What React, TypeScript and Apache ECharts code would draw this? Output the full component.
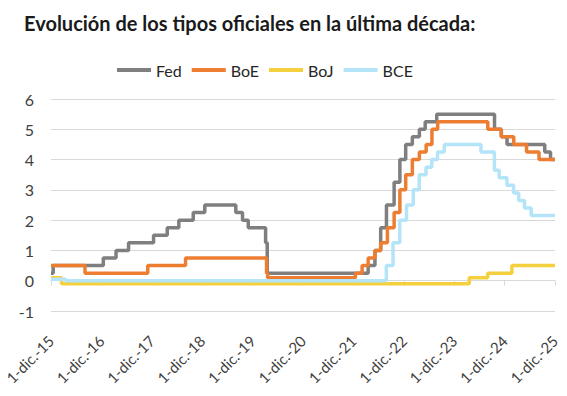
import React, { useEffect, useRef } from "react";
import * as echarts from "echarts";

const TITLE = "Evolución de los tipos oficiales en la última década:";
const SERIES_NAMES = ["Fed", "BoE", "BoJ", "BCE"];
const COLORS = ["#7f7f7f", "#ed7d31", "#f4d03f", "#b4e4f8"];

const START_YEAR = 2015;
const YEAR_TICKS = ["15", "16", "17", "18", "19", "20", "21", "22", "23", "24", "25"];
const Y_MIN = -1;
const Y_MAX = 6;

// [date, rate]  (step changes)
const fedData: [string, number][] = [
  ["2015-12-01", 0.25], ["2015-12-17", 0.5], ["2016-12-15", 0.75], ["2017-03-16", 1.0],
  ["2017-06-15", 1.25], ["2017-12-14", 1.5], ["2018-03-22", 1.75], ["2018-06-14", 2.0],
  ["2018-09-27", 2.25], ["2018-12-20", 2.5], ["2019-08-01", 2.25], ["2019-09-19", 2.0],
  ["2019-10-31", 1.75], ["2020-03-04", 1.25], ["2020-03-16", 0.25], ["2022-03-17", 0.5],
  ["2022-05-05", 1.0], ["2022-06-16", 1.75], ["2022-07-28", 2.5], ["2022-09-22", 3.25],
  ["2022-11-03", 4.0], ["2022-12-15", 4.5], ["2023-02-02", 4.75], ["2023-03-23", 5.0],
  ["2023-05-04", 5.25], ["2023-07-27", 5.5], ["2024-09-19", 5.0], ["2024-11-08", 4.75],
  ["2024-12-19", 4.5], ["2025-09-18", 4.25], ["2025-10-30", 4.0], ["2025-12-01", 4.0],
];

const boeData: [string, number][] = [
  ["2015-12-01", 0.5], ["2016-08-04", 0.25], ["2017-11-02", 0.5], ["2018-08-02", 0.75],
  ["2020-03-11", 0.25], ["2020-03-19", 0.1], ["2021-12-16", 0.25], ["2022-02-03", 0.5],
  ["2022-03-17", 0.75], ["2022-05-05", 1.0], ["2022-06-16", 1.25], ["2022-08-04", 1.75],
  ["2022-09-22", 2.25], ["2022-11-03", 3.0], ["2022-12-15", 3.5], ["2023-02-02", 4.0],
  ["2023-03-23", 4.25], ["2023-05-11", 4.5], ["2023-06-22", 5.0], ["2023-08-03", 5.25],
  ["2024-08-01", 5.0], ["2024-11-07", 4.75], ["2025-02-06", 4.5], ["2025-05-08", 4.25],
  ["2025-08-07", 4.0], ["2025-12-01", 4.0],
];

const bojData: [string, number][] = [
  ["2015-12-01", 0.1], ["2016-02-16", -0.1], ["2024-03-19", 0.1], ["2024-07-31", 0.25],
  ["2025-01-24", 0.5], ["2025-12-01", 0.5],
];

const bceData: [string, number][] = [
  ["2015-12-01", 0.05], ["2016-03-16", 0.0], ["2022-07-27", 0.5], ["2022-09-14", 1.25],
  ["2022-11-02", 2.0], ["2022-12-21", 2.5], ["2023-02-08", 3.0], ["2023-03-22", 3.5],
  ["2023-05-10", 3.75], ["2023-06-21", 4.0], ["2023-08-02", 4.25], ["2023-09-20", 4.5],
  ["2024-06-12", 4.25], ["2024-09-18", 3.65], ["2024-10-23", 3.4], ["2024-12-18", 3.15],
  ["2025-02-05", 2.9], ["2025-03-12", 2.65], ["2025-04-23", 2.4], ["2025-06-11", 2.15],
  ["2025-12-01", 2.15],
];

const ALL_DATA = [fedData, boeData, bojData, bceData];

// months elapsed since 1 Dec 2015
function toMonthIndex(date: string): number {
  const [y, m, d] = date.split("-").map(Number);
  const dim = new Date(Date.UTC(y, m, 0)).getUTCDate();
  return (y - START_YEAR) * 12 + (m - 12) + (d - 1) / dim;
}

const FONT = "Lato, 'Open Sans', sans-serif";

export default function App() {
  const ref = useRef<HTMLDivElement>(null);
  useEffect(() => {
    if (!ref.current) return;
    const chart = echarts.init(ref.current, undefined, { renderer: "svg" });
    const xMax = (YEAR_TICKS.length - 1) * 12;
    chart.setOption({
      animation: false,
      backgroundColor: "#ffffff",
      textStyle: { fontFamily: FONT },
      title: {
        text: TITLE,
        left: 19,
        top: 8,
        textStyle: { fontFamily: FONT, fontSize: 20, fontWeight: "bold", color: "#1a1a1a" },
      },
      legend: {
        data: SERIES_NAMES,
        left: 112,
        top: 57,
        icon: "rect",
        itemWidth: 34,
        itemHeight: 4,
        itemGap: 10,
        textStyle: { fontFamily: FONT, fontSize: 16, color: "#262626" },
      },
      grid: { left: 51, right: 12, top: 99, bottom: 85, outerBoundsMode: "none", containLabel: false },
      xAxis: {
        type: "value",
        min: 0,
        max: xMax,
        interval: 12,
        axisLine: { onZero: true, lineStyle: { color: "#d9d9d9", width: 1 } },
        axisTick: { show: true, length: 5, lineStyle: { color: "#d9d9d9" } },
        splitLine: { show: false },
        axisLabel: {
          rotate: 45,
          margin: 27,
          fontSize: 15,
          fontFamily: FONT,
          color: "#404040",
          formatter: (v: number) => {
            const i = Math.round(v / 12);
            return YEAR_TICKS[i] !== undefined ? "1-dic.-" + YEAR_TICKS[i] : "";
          },
        },
      },
      yAxis: {
        type: "value",
        min: Y_MIN,
        max: Y_MAX,
        interval: 1,
        axisLine: { show: false },
        axisTick: { show: false },
        splitLine: { lineStyle: { color: "#d9d9d9", width: 1 } },
        axisLabel: { fontSize: 16, fontFamily: FONT, color: "#404040", margin: 17 },
      },
      series: SERIES_NAMES.map((name, i) => ({
        name,
        type: "line",
        step: "end",
        showSymbol: false,
        symbol: "none",
        z: 2 + i,
        lineStyle: { color: COLORS[i], width: 3.5 },
        itemStyle: { color: COLORS[i] },
        data: ALL_DATA[i].map(([d, v]) => [toMonthIndex(d), v]),
      })),
    });
    return () => chart.dispose();
  }, []);
  return (
    <div
      ref={ref}
      style={{ position: "fixed", left: 0, top: 0, width: 567, height: 396 }}
    />
  );
}
